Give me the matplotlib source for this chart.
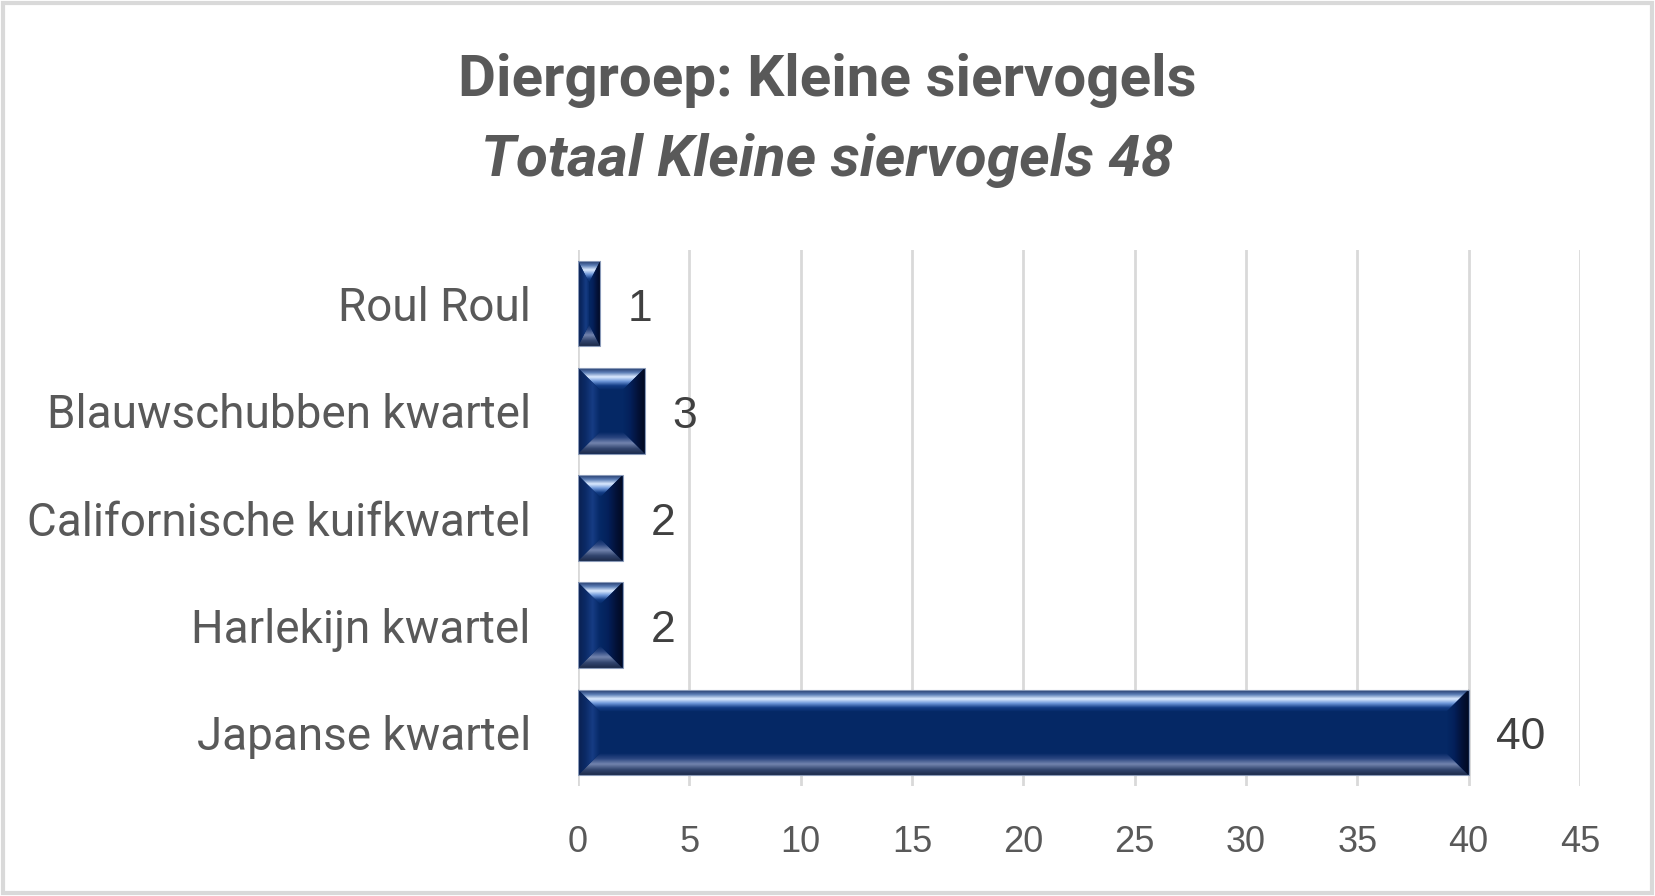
import numpy as np
import matplotlib
matplotlib.use("Agg")
import matplotlib.pyplot as plt
from matplotlib.patches import Polygon, Rectangle
from matplotlib.colors import LinearSegmentedColormap

# data (bottom to top)
categories = ["Japanse kwartel", "Harlekijn kwartel", "Californische kuifkwartel",
              "Blauwschubben kwartel", "Roul Roul"]
values = [40, 2, 2, 3, 1]
xticks = [0, 5, 10, 15, 20, 25, 30, 35, 40, 45]
title = "Diergroep: Kleine siervogels"
subtitle = "Totaal Kleine siervogels 48"

main = "#052865"
grid_col = "#D9D9D9"
text_col = "#595959"

fig = plt.figure(figsize=(16.55, 8.96), dpi=100)
ax = fig.add_axes([578/1655, 1 - 786/896, 1002/1655, 536/896])

y = np.arange(len(categories))
hh = 0.4
ax.barh(y, values, height=2*hh, color=main, zorder=2)
ax.set_xlim(0, 45)
ax.set_ylim(-0.5, len(categories) - 0.5)

# bevel size in data units
bb = ax.get_window_extent()
bev = 22
bx0 = bev / (bb.width / 45)
by0 = bev / (bb.height / len(categories))


def grad_piece(verts, extent, colors, vertical):
    poly = Polygon(verts, closed=True, facecolor="none", edgecolor="none")
    ax.add_patch(poly)
    cmap = LinearSegmentedColormap.from_list("g", colors)
    g = np.linspace(0, 1, 256)
    g = g.reshape(-1, 1) if vertical else g.reshape(1, -1)
    im = ax.imshow(g, cmap=cmap, extent=extent, aspect="auto", origin="lower",
                   interpolation="bilinear", zorder=3)
    im.set_clip_path(poly)


for yi, w in zip(y, values):
    bx = min(bx0, w / 2)
    by = min(by0, hh)
    t, b = yi + hh, yi - hh
    # top
    grad_piece([(0, t), (w, t), (w - bx, t - by), (bx, t - by)], (0, w, t - by, t),
               [main, "#123C84", "#6F98DA", "#DCEBFF", "#5A7CB4", "#22386A"], True)
    # bottom
    grad_piece([(0, b), (w, b), (w - bx, b + by), (bx, b + by)], (0, w, b, b + by),
               ["#1C2A4A", "#33466F", "#7384AE", "#2A4580", main], True)
    # left
    grad_piece([(0, b), (bx, b + by), (bx, t - by), (0, t)], (0, bx, b, t),
               ["#0A2050", "#0B2A66", "#163C84", main], False)
    # right
    grad_piece([(w, b), (w - bx, b + by), (w - bx, t - by), (w, t)], (w - bx, w, b, t),
               [main, "#04205A", "#03123A", "#020A20"], False)

ax.barh(y, values, height=2*hh, fill=False, edgecolor="#8A9AB8", linewidth=0.8, zorder=4)
ax.set_xlim(0, 45)
ax.set_ylim(-0.5, len(categories) - 0.5)

for yi, w in zip(y, values):
    ax.annotate(str(w), (w, yi), xytext=(20, -4), textcoords="offset points",
                va="center", ha="left", fontsize=32, color="#404040",
                family="Liberation Sans", zorder=5)

ax.set_xticks(xticks)
ax.set_xticklabels([str(v) for v in xticks], fontsize=26, color=text_col,
                   family="Liberation Sans")
ax.set_yticks(y)
ax.set_yticklabels(categories, fontsize=33, color=text_col, family="Roboto")
ax.tick_params(axis="x", length=0, pad=28)
ax.tick_params(axis="y", length=0, pad=34)
ax.grid(axis="x", color=grid_col, linewidth=2, zorder=0)
ax.set_axisbelow(True)
for s in ax.spines.values():
    s.set_visible(False)

fig.text(0.5, 0.893, title, ha="center", va="baseline", fontsize=42,
         fontweight="bold", color=text_col, family="Roboto")
fig.text(0.5, 0.804, subtitle, ha="center", va="baseline", fontsize=42,
         fontweight="bold", fontstyle="italic", color=text_col, family="Roboto")

fig.patches.append(Rectangle((0.002, 0.003), 0.996, 0.994, transform=fig.transFigure,
                             fill=False, edgecolor=grid_col, linewidth=3))

fig.savefig("out.png", dpi=100, facecolor="white")
